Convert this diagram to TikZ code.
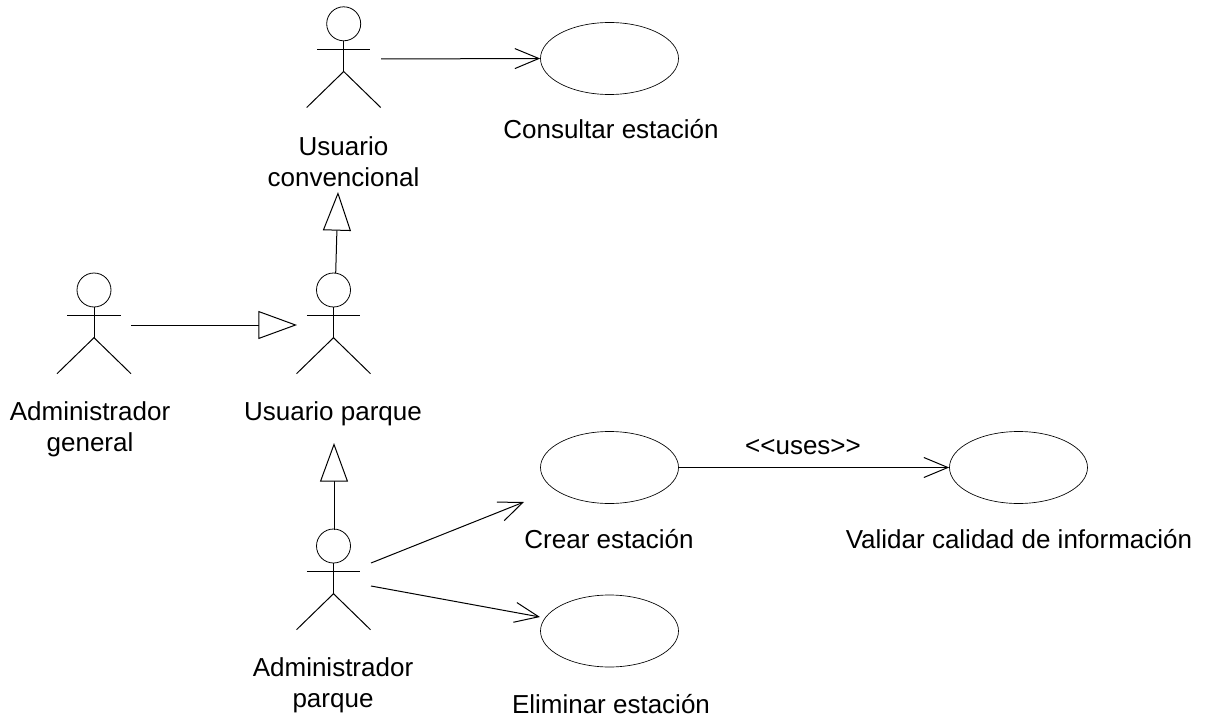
\documentclass[tikz,border=0pt]{standalone}
\usepackage{fontspec}
\setmainfont{Liberation Sans}
\usetikzlibrary{arrows.meta,shapes.geometric}
\tikzset{
  x=0.75pt,y=-0.75pt,
  every path/.style={line width=0.75pt},
  usecase/.style={draw,ellipse,minimum width=103.5pt,minimum height=54pt,inner sep=0pt,line width=0.5pt},
  lbl/.style={font=\fontsize{19.5}{23.3}\selectfont,align=center,inner sep=0pt},
  assoc/.style={-{Straight Barb[length=18pt,width=15pt,line width=0.75pt]}},
  gen/.style={-{Triangle[open,fill=white,length=29pt,width=21pt,line width=0.75pt]}},
  pics/stick/.style={code={
    \draw[line width=0.6pt] (0,-25.7) circle (17);
    \draw (0,-8.7) -- (0,22);
    \draw (-26.7,0) -- (26.7,0);
    \draw (-37,58) -- (0,22) -- (37,58);
  }}
}
\begin{document}
\begin{tikzpicture}
\useasboundingbox (0,0) rectangle (1207,717);
\pic at (343.7,49.5) {stick};
\pic at (94,315.7) {stick};
\pic at (333.5,315.7) {stick};
\pic at (333.5,571.7) {stick};
\node[usecase] (consultar) at (609.5,58.5) {};
\node[usecase] (crear) at (609.5,467.5) {};
\node[usecase] (eliminar) at (609.5,631) {};
\node[usecase] (validar) at (1018.5,467.5) {};
\node[lbl] (lconsultar) at (611,129) {Consultar estación};
\node[lbl] (lusuario) at (343.5,161.5) {Usuario\\convencional};
\node[lbl] (ladmin) at (90,429) {Administrador\\general};
\node[lbl] (lparque) at (333,414) {Usuario parque};
\node[lbl] (ladminp) at (333,685.5) {Administrador\\parque};
\node[lbl] (lcrear) at (609,539.5) {Crear estación};
\node[lbl] (lvalidar) at (1019,539) {Validar calidad de información};
\node[lbl] (leliminar) at (611,704) {Eliminar estación};
\node[lbl] (luses) at (803,447) {<{}<uses>{}>};
\coordinate (a1) at (381,59);
\coordinate (a2) at (131,325);
\coordinate (a2t) at (297,325);
\coordinate (a3) at (335.7,273);
\coordinate (a3t) at (338,192);
\coordinate (a4) at (334,530);
\coordinate (a4t) at (334,443);
\coordinate (a5) at (371,563);
\coordinate (a5t) at (524,502);
\coordinate (a6) at (371,586);
\coordinate (a6t) at (540,617);
\draw[assoc] (a1) -- (consultar.west);
\draw[gen] (a2) -- (a2t);
\draw[gen] (a3) -- (a3t);
\draw[gen] (a4) -- (a4t);
\draw[assoc] (a5) -- (a5t);
\draw[assoc] (a6) -- (a6t);
\draw[assoc] (crear.east) -- (validar.west);
\end{tikzpicture}
\end{document}
